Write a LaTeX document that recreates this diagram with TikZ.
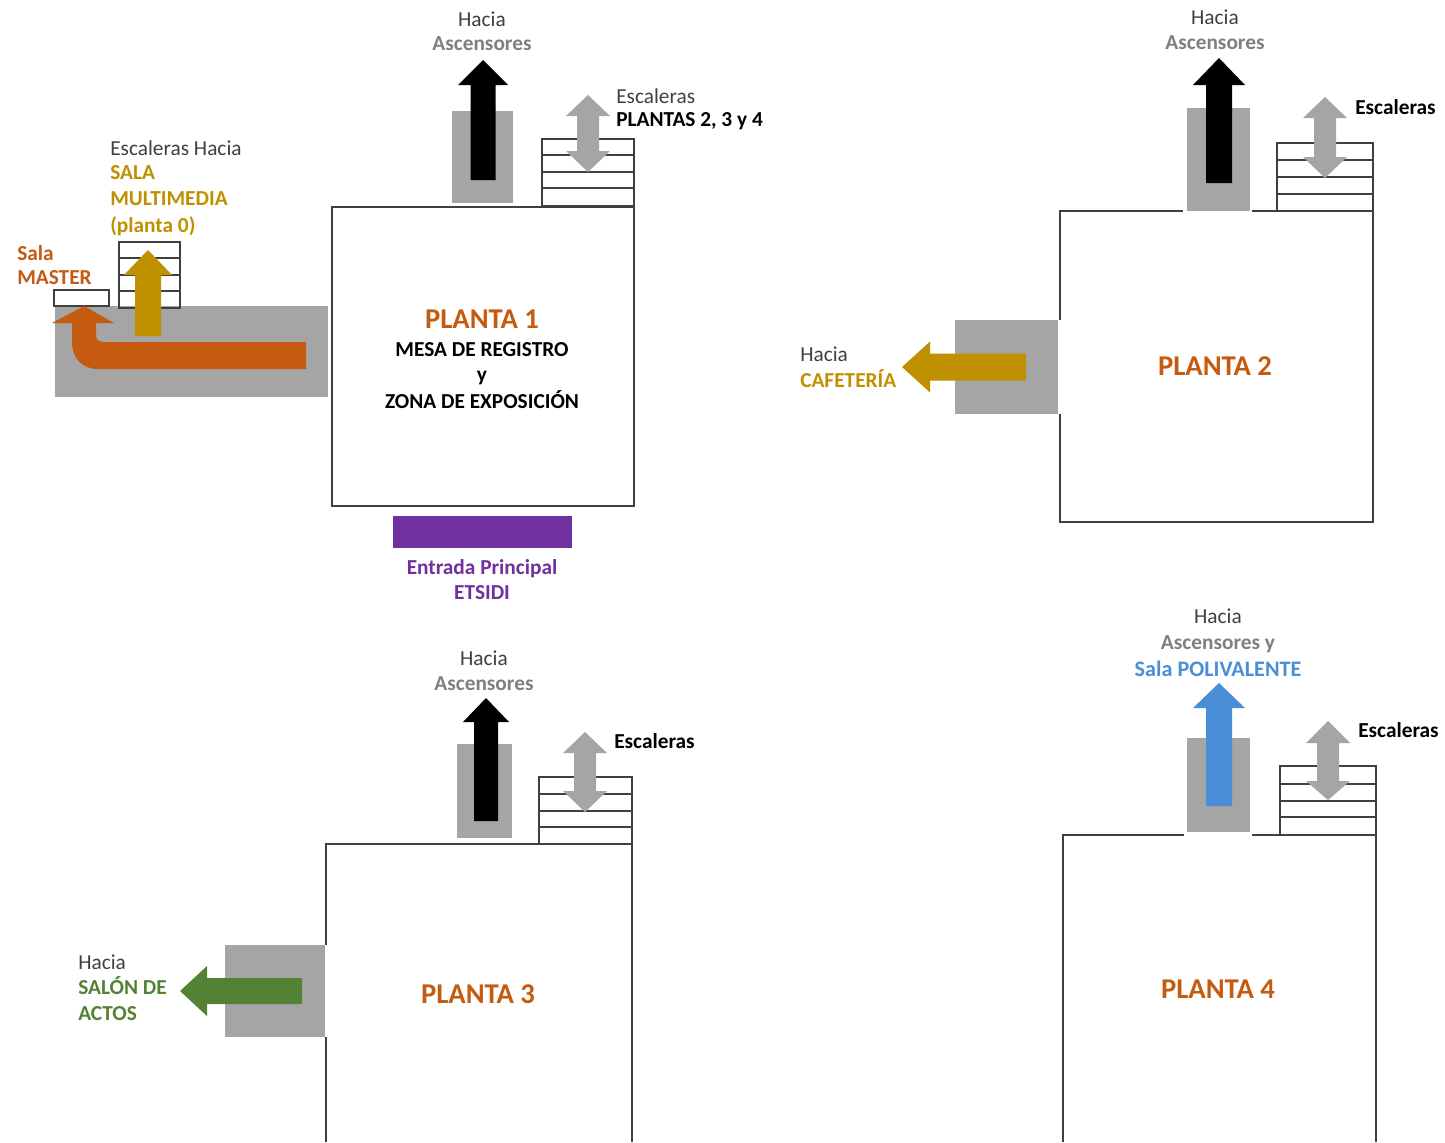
\documentclass[tikz,border=0pt]{standalone}
\usepackage{fontspec}
\setmainfont{Carlito}
\definecolor{cgrey}{HTML}{A5A5A5}
\definecolor{cdark}{HTML}{404040}
\definecolor{cmid}{HTML}{7F7F7F}
\definecolor{corange}{HTML}{C55A11}
\definecolor{cgold}{HTML}{BF9000}
\definecolor{cgreen}{HTML}{548235}
\definecolor{cblue}{HTML}{4A8FD6}
\definecolor{cpurple}{HTML}{7030A0}
\definecolor{cline}{HTML}{404040}
\tikzset{
  txt/.style={font=\fontsize{16}{19}\selectfont,inner sep=0pt,text=cdark},
  txb/.style={txt,font=\fontsize{16}{19}\selectfont\bfseries},
  ttl/.style={inner sep=0pt,text=corange,font=\fontsize{21.5}{25}\selectfont\bfseries},
  wall/.style={draw=cline,line width=0.85pt},
  tread/.style={draw=cline,line width=0.85pt},
  block/.style={fill=cgrey}
}
% up arrow: cx, tip y, head base y, bottom y, head half width, shaft half width, colour
\newcommand{\uparrowblk}[7]{\fill[#7] (#1,#2)--(#1+#5,#3)--(#1+#6,#3)--(#1+#6,#4)--(#1-#6,#4)--(#1-#6,#3)--(#1-#5,#3)--cycle;}
% left arrow: cy, tip x, head base x, right x, head half, shaft half, colour
\newcommand{\leftarrowblk}[7]{\fill[#7] (#2,#1)--(#3,#1-#5)--(#3,#1-#6)--(#4,#1-#6)--(#4,#1+#6)--(#3,#1+#6)--(#3,#1+#5)--cycle;}
% double arrow: cx, top tip, top base, bottom base, bottom tip
\newcommand{\dblarrow}[5]{\fill[cgrey] (#1,#2)--(#1+22,#3)--(#1+11,#3)--(#1+11,#4)--(#1+22,#4)--(#1,#5)--(#1-22,#4)--(#1-11,#4)--(#1-11,#3)--(#1-22,#3)--cycle;}
% stairs: x0,x1,y0,y1,y2,y3,y4
\newcommand{\stairs}[7]{\draw[tread] (#1,#3) rectangle (#2,#7) (#1,#4)--(#2,#4) (#1,#5)--(#2,#5) (#1,#6)--(#2,#6);}
\begin{document}
\begin{tikzpicture}[x=0.75pt,y=-0.75pt]
\useasboundingbox (0,0) rectangle (1445,1142);
\fill[white] (0,0) rectangle (1445,1142);

% ---------- PLANTA 1
\fill[block] (452,111) rectangle (513,203);
\fill[block] (55,306) rectangle (328,397);
\stairs{542}{634}{139}{155}{172}{188}{206}
\stairs{119}{180}{242}{258}{275}{291}{308}
\draw[tread] (54,290) rectangle (109,306);
\draw[wall] (332,207) rectangle (634,506);
\uparrowblk{483}{60}{85}{180}{25}{12.5}{black}
\dblarrow{588}{95}{116}{151}{172}
\uparrowblk{148}{250}{275}{336}{24}{13}{cgold}
\fill[corange] (84,306)--(114,323)--(96,323)--(96,335) .. controls (96,340) and (99,342) .. (104,342)--(306,342)--(306,369)--(98,369) .. controls (82,369) and (72,358) .. (72,342)--(72,323)--(52,323)--cycle;
\fill[cpurple] (393,516) rectangle (572,548);

\node[txt] (p1h) at (482,19) {Hacia};
\node[txb,text=cmid] (p1a) at (482,44) {Ascensores};
\node[txt,anchor=west] (p1e) at (616,96) {Escaleras};
\node[txb,text=black,anchor=west] (p1p) at (616,121) {PLANTAS 2, 3 y 4};
\node[txt,anchor=west] (p1m0) at (110,148) {Escaleras Hacia};
\node[txb,text=cgold,anchor=west] (p1m1) at (110,173) {SALA};
\node[txb,text=cgold,anchor=west] (p1m2) at (110,199) {MULTIMEDIA};
\node[txb,text=cgold,anchor=west] (p1m3) at (110,226) {(planta 0)};
\node[txb,text=corange,anchor=west] (p1s1) at (17,253) {Sala};
\node[txb,text=corange,anchor=west] (p1s2) at (17,278) {MASTER};
\node[ttl] (p1t) at (482,319) {PLANTA 1};
\node[txb,text=black] (p1r1) at (482,350) {MESA DE REGISTRO};
\node[txb,text=black] (p1r2) at (482,378) {y};
\node[txb,text=black] (p1r3) at (482,400) {ZONA DE EXPOSICIÓN};
\node[txb,text=cpurple] (p1en) at (482,569) {Entrada Principal};
\node[txb,text=cpurple] (p1et) at (482,593) {ETSIDI};

% ---------- PLANTA 2
\fill[block] (1187,108) rectangle (1250,211);
\fill[block] (955,320) rectangle (1058,414);
\stairs{1277}{1373}{143}{160}{177}{194}{211}
\draw[wall] (1183,211)--(1060,211)--(1060,320) (1060,414)--(1060,522)--(1373,522)--(1373,211)--(1252,211);
\uparrowblk{1219}{58}{85}{183}{26}{13}{black}
\dblarrow{1325}{97}{118}{157}{178}
\leftarrowblk{367}{902}{930}{1026}{25.5}{13.5}{cgold}
\node[txt] (p2h) at (1215,17) {Hacia};
\node[txb,text=cmid] (p2a) at (1215,43) {Ascensores};
\node[txb,text=black,anchor=west] (p2e) at (1355,107) {Escaleras};
\node[txt,anchor=west] (p2c1) at (800,354) {Hacia};
\node[txb,text=cgold,anchor=west] (p2c2) at (800,379) {CAFETERÍA};
\node[ttl] (p2t) at (1215,366) {PLANTA 2};

% ---------- PLANTA 3
\fill[block] (457,744) rectangle (512,838);
\fill[block] (225,945) rectangle (325,1037);
\stairs{539}{632}{777}{794}{811}{827}{844}
\draw[wall] (326,945)--(326,844)--(632,844)--(632,1142) (326,1037)--(326,1142);
\uparrowblk{486}{698}{722}{821}{23}{12}{black}
\dblarrow{585}{732}{753}{791}{812}
\leftarrowblk{991}{180}{207}{302}{25}{13}{cgreen}
\node[txt] (p3h) at (484,658) {Hacia};
\node[txb,text=cmid] (p3a) at (484,684) {Ascensores};
\node[txb,text=black,anchor=west] (p3e) at (614,741) {Escaleras};
\node[txt,anchor=west] (p3s0) at (78,962) {Hacia};
\node[txb,text=cgreen,anchor=west] (p3s1) at (78,986) {SALÓN DE};
\node[txb,text=cgreen,anchor=west] (p3s2) at (78,1014) {ACTOS};
\node[ttl] (p3t) at (478,994) {PLANTA 3};

% ---------- PLANTA 4
\fill[block] (1187,738) rectangle (1250,832);
\stairs{1280}{1376}{766}{784}{801}{817}{835}
\draw[wall] (1184,835)--(1063,835)--(1063,1142) (1376,1142)--(1376,835)--(1252,835);
\uparrowblk{1219}{683}{708}{806}{26}{13}{cblue}
\dblarrow{1328}{721}{743}{781}{800}
\node[txt] (p4h) at (1218,616) {Hacia};
\node[txb,text=cmid] (p4a) at (1218,644) {Ascensores y};
\node[txb,text=cblue,font=\fontsize{16.6}{19}\selectfont\bfseries] (p4b) at (1218,669) {Sala POLIVALENTE};
\node[txb,text=black,anchor=west] (p4e) at (1358,730) {Escaleras};
\node[ttl] (p4t) at (1218,989) {PLANTA 4};
\end{tikzpicture}
\end{document}
